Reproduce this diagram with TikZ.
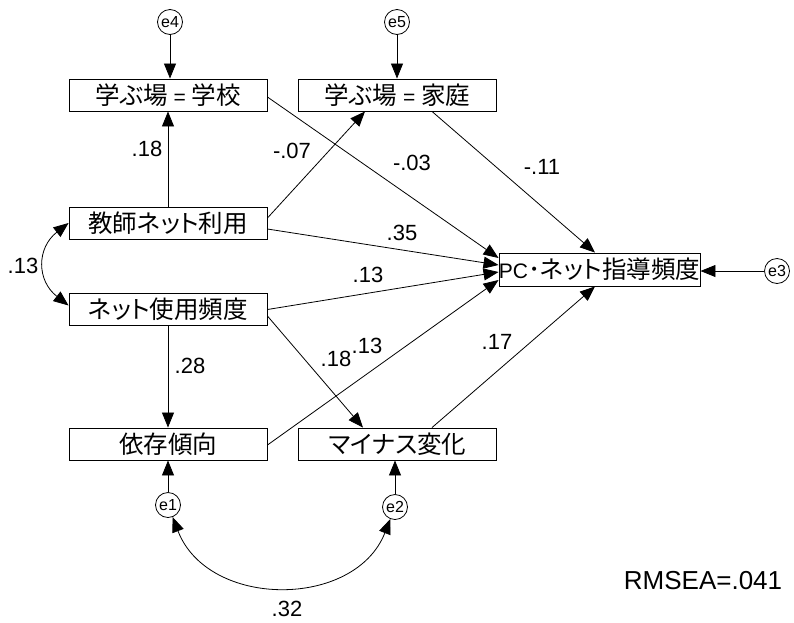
\documentclass[tikz,border=0pt]{standalone}
\usepackage{fontspec}
\setmainfont{Liberation Sans}
\newfontfamily\jpfont[RawFeature={+palt}]{Noto Sans CJK JP}
\newfontfamily\jpplain{Noto Sans CJK JP}
\usetikzlibrary{arrows.meta}
\newcommand\jt[1]{{\jpfont\fontsize{24.5}{25}\selectfont #1}}
\newcommand\jdot{{\jpplain\fontsize{24.5}{25}\selectfont ･}}
\begin{document}
\begin{tikzpicture}[x=1pt,y=-1pt,
  box/.style={draw, line width=0.9pt, minimum width=198pt, minimum height=32pt, inner sep=0pt, font=\fontsize{21}{22}\selectfont},
  err/.style={draw, circle, line width=0.8pt, minimum size=25pt, inner sep=0pt, font=\fontsize{16}{16}\selectfont},
  lbl/.style={font=\fontsize{22}{22}\selectfont, inner sep=0pt},
  pth/.style={-{Triangle[length=15pt,width=12pt]}, line width=0.8pt},
  cov/.style={{Triangle[length=15pt,width=12pt]}-{Triangle[length=15pt,width=12pt]}, line width=0.8pt}]
\useasboundingbox (0,0) rectangle (794,622);
% boxes
\node[box] (school)  at (168,95)    {\jt{学ぶ場} = \jt{学校}};
\node[box] (home)    at (397.5,95)  {\jt{学ぶ場} = \jt{家庭}};
\node[box] (teacher) at (168,223)   {\jt{教師ネット利用}};
\node[box] (netuse)  at (168,309.5) {\jt{ネット使用頻度}};
\node[box] (dep)     at (168,444)   {\jt{依存傾向}};
\node[box] (minus)   at (397.5,444) {\jt{マイナス変化}};
\node[box, minimum width=199pt, minimum height=33pt] (pc) at (599.5,269.5) {PC\jdot\jt{ネット指導頻度}};
% error terms
\node[err] (e4) at (170,22)  {e4};
\node[err] (e5) at (397,22)  {e5};
\node[err] (e3) at (777,271) {e3};
\node[err] (e1) at (168,505) {e1};
\node[err] (e2) at (395,507) {e2};
% paths
\draw[pth] (e4) -- (e4 |- school.north);
\draw[pth] (e5) -- (e5 |- home.north);
\draw[pth] (e3) -- (e3 -| pc.east);
\draw[pth] (e1) -- (e1 |- dep.south);
\draw[pth] (e2) -- (e2 |- minus.south);
\draw[pth] (teacher.north) -- (school.south);
\draw[pth] (netuse.south) -- (dep.north);
\draw[pth] ([yshift=-2pt]school.east) -- ([yshift=11.5pt]pc.west);
\draw[pth] ([yshift=5pt]teacher.east) -- ([xshift=-32.5pt]home.south);
\draw[pth] ([yshift=-6pt]teacher.east) -- ([yshift=4.5pt]pc.west);
\draw[pth] (netuse.east) -- ([yshift=-2.5pt]pc.west);
\draw[pth] ([yshift=-6.5pt]netuse.east) -- ([xshift=-34.5pt]minus.north);
\draw[pth] ([yshift=-1pt]dep.east) -- ([yshift=-10.5pt]pc.west);
\draw[pth] ([xshift=34.5pt]home.south) -- ([xshift=-4.5pt]pc.north);
\draw[pth] ([xshift=34.5pt]minus.north) -- ([xshift=-4.5pt]pc.south);
% covariances
\draw[cov] (teacher.west) .. controls +(-32,25) and +(-32,-25) .. ([yshift=4pt]netuse.west);
\draw[cov] (e1) .. controls +(40,104) and +(-40,102) .. (e2);
% labels
\node[lbl] (l1)  at (147,149) {.18};
\node[lbl] (l2)  at (292,151) {-.07};
\node[lbl] (l3)  at (412,163) {-.03};
\node[lbl] (l4)  at (542,167) {-.11};
\node[lbl] (l5)  at (402,233) {.35};
\node[lbl] (l6)  at (368,275) {.13};
\node[lbl] (l7)  at (23,266)  {.13};
\node[lbl] (l8)  at (190,366) {.28};
\node[lbl] (l9)  at (336,359) {.18};
\node[lbl] (l10) at (367,346) {.13};
\node[lbl] (l11) at (497,342) {.17};
\node[lbl] (l12) at (287,609) {.32};
\node[lbl, font=\fontsize{26}{26}\selectfont] (rm) at (703,581) {RMSEA=.041};
\end{tikzpicture}
\end{document}
